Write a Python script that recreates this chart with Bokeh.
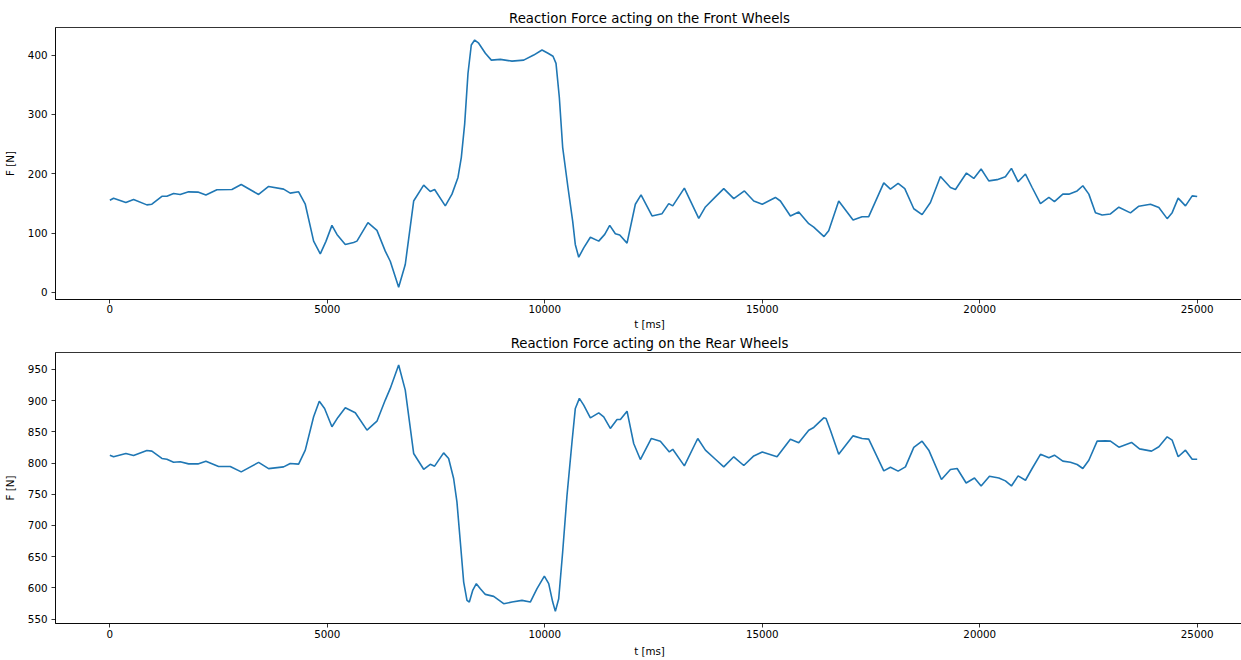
from bokeh.plotting import figure
from bokeh.layouts import column
from bokeh.models import Range1d, FixedTicker
from bokeh.embed import file_html
from bokeh.resources import INLINE

# Front wheels reaction force (t [ms], F [N])
front_t = [0, 85, 368, 545, 851, 966, 1196, 1311, 1465, 1617, 1810, 2024, 2208, 2461, 2806,
           3020, 3420, 3650, 3995, 4147, 4340, 4493, 4685, 4838, 4968, 5106, 5221, 5413, 5604,
           5681, 5934, 6141, 6332, 6447, 6640, 6792, 6985, 7215, 7367, 7467, 7712, 7866, 8004,
           8081, 8158, 8234, 8310, 8388, 8480, 8633, 8771, 8978, 9246, 9515, 9745, 9936, 10074,
           10189, 10258, 10334, 10411, 10533, 10641, 10701, 10780, 10895, 11048, 11240, 11378,
           11493, 11622, 11723, 11891,
           12082, 12213, 12466, 12696, 12850, 12942, 13209, 13540, 13693, 13923, 14115, 14345,
           14590, 14805, 15000, 15302, 15417, 15647, 15839, 16069, 16184, 16420, 16528, 16758,
           17088, 17295, 17448, 17794, 17947, 18124, 18277, 18484, 18675, 18867, 19097, 19327,
           19442, 19695, 19864, 20032, 20209, 20400, 20591, 20729, 20883, 21052, 21205, 21397,
           21590, 21718, 21911, 22049, 22240, 22371, 22509, 22661, 22815, 23006, 23199, 23466,
           23659, 23926, 24119, 24310, 24425, 24563, 24731, 24885, 25000]
front_f = [155.4, 158.8, 151.4, 156.5, 147.5, 148.6, 162, 162, 166.6, 165, 169.5, 169, 164, 172.9, 173.4,
           181.9, 165, 178.5, 174, 167.3, 169.5, 148.6, 86.4, 65, 86, 113, 97.7, 80.8, 84.2,
           86.4, 117.5, 104.5, 69.5, 52.5, 8.5, 47, 154, 180.8, 170, 173.4, 145.8, 165.6, 193.7,
           227.6, 284, 369, 417, 425.4, 420, 403, 391.5, 392.7, 389.8, 391.5, 400, 408.5, 403,
           398, 386, 329, 244.6, 176.8, 120, 80.8, 59.3, 75, 93, 86.4, 97.8,
           113, 98.8, 96.6, 83,
           148.6, 164.4, 128.8, 132.7, 149.7, 145.8, 175.7, 124.9, 144, 161, 175, 158,
           171, 154, 148.6, 160, 154, 128.8, 135.6, 115.8, 110, 94, 104, 154,
           122, 127.6, 127.6, 184.7, 174, 183.6, 175, 141, 131, 151.4, 195.4, 176.8,
           173.4, 201.2, 192, 208, 188, 190, 195, 209, 186.4, 199.5, 176.8, 149.7,
           160, 153, 165.6, 165.6, 171, 179.7, 165.6, 134.4, 130.5, 132.2, 143.6, 134,
           145.3, 148.6, 143, 124.3, 134.4, 158.8, 145.8, 162.7, 161.5]

# Rear wheels reaction force (t [ms], F [N])
rear_t = [0, 85, 368, 545, 851, 966, 1196, 1311, 1465, 1617, 1810, 2024, 2208, 2500, 2767,
          3020, 3420, 3650, 3995, 4147, 4340, 4493, 4685, 4815, 4937, 5106, 5244, 5413, 5643,
          5912, 6141, 6332, 6447, 6640, 6792, 6985, 7215, 7367, 7467, 7674, 7789, 7904, 7980,
          8058, 8135, 8211, 8265, 8342, 8426, 8518, 8633, 8825, 9055, 9246, 9476, 9667, 9821,
          9990, 10090, 10182, 10243, 10320, 10411, 10511, 10626, 10702, 10795, 10895, 11048,
          11240, 11355, 11507, 11661, 11738, 11891, 12044, 12197,
          12450, 12657, 12864, 12942, 13209, 13517, 13693, 13923, 14115, 14345, 14575, 14805,
          15000, 15340, 15647, 15839, 16069, 16184, 16414, 16467, 16567, 16758, 17088, 17295,
          17448, 17794, 17947, 18124, 18292, 18484, 18675, 18829, 19120, 19327, 19481, 19688,
          19880, 20032, 20224, 20440, 20591, 20729, 20883, 21052, 21205, 21397, 21590, 21718,
          21911, 22086, 22240, 22371, 22509, 22700, 22892, 23006, 23199, 23490, 23674, 23950,
          24119, 24310, 24425, 24563, 24731, 24885, 25000]
rear_f = [812.5, 810, 815.3, 812, 820, 819, 807.3, 806, 801.3, 802, 798.6, 798.6, 803, 794.4, 794.4,
          785.8, 801, 791, 793.8, 799.2, 798.3, 820.6, 874, 899, 887.4, 858, 873, 888.4, 880.4,
          852.7, 867, 900.8, 919.5, 957, 916.8, 815.3, 790, 798, 795, 816.3, 807.3, 775.2, 737.7,
          673.5, 609.3, 580, 577.3, 596, 606.8, 598.8, 589.6, 586.4, 574.7, 577.3, 580, 577.3, 598.8,
          619, 606.8, 577.3, 562.4, 582.7, 657.5, 748.4, 834, 887.4, 903.5, 892.7, 872.4,
          880.4, 874, 855.4, 869.8, 869.8, 883, 831.3, 805.6,
          839.3, 835, 817.8, 822, 795.4, 839.3, 820.6, 806, 793.8, 810, 796, 811.4,
          817.8, 810, 838.2, 832.3, 852.6, 857, 872.4, 871.4, 852.6, 814, 843.5, 839.3,
          838.2, 787.4, 793.3, 787, 793.8, 825, 835, 820.6, 773.6, 789.6, 791.2, 768,
          776, 763.3, 778.9, 776, 771.4, 763.3, 779.4, 772.4, 791.2, 814, 808.3, 812.5,
          803, 801.3, 797.6, 791.2, 804.5, 835, 835.5, 835, 825.4, 832.9, 822.7, 819,
          826, 842, 836.6, 810, 820.6, 806, 806]

x_ticks = [0, 5000, 10000, 15000, 20000, 25000]
front_ticks = [0, 100, 200, 300, 400]
rear_ticks = [550, 600, 650, 700, 750, 800, 850, 900, 950]

FONT = "DejaVu Sans"
LINE = "#1f77b4"


def make_fig(title, t, f, yr, yticks, frame_h, top, bottom, lab_so, axl_so):
    p = figure(width=1241, frame_width=1188, frame_height=frame_h,
               x_range=Range1d(-1250, 26065), y_range=Range1d(*yr),
               output_backend="svg", toolbar_location=None,
               min_border_left=53, min_border_right=0,
               min_border_top=top, min_border_bottom=bottom,
               title=title)
    p.title.text_font = FONT
    p.title.text_font_size = "13.3px"
    p.title.text_font_style = "normal"
    p.title.text_color = "black"
    p.title.text_line_height = 1.0
    p.title.align = "center"
    p.title.standoff = 3
    p.grid.visible = False
    p.outline_line_color = "black"
    p.outline_line_width = 0.8
    p.background_fill_color = "white"
    p.border_fill_color = "white"
    p.xaxis.ticker = FixedTicker(ticks=x_ticks)
    p.yaxis.ticker = FixedTicker(ticks=yticks)
    for ax in (p.xaxis, p.yaxis):
        ax.axis_line_color = "black"
        ax.axis_line_width = 0.8
        ax.major_tick_line_color = "black"
        ax.major_tick_line_width = 0.8
        ax.major_tick_out = 4
        ax.major_tick_in = 0
        ax.minor_tick_out = 0
        ax.minor_tick_in = 0
        ax.major_label_text_font = FONT
        ax.major_label_text_font_size = "10.3px"
        ax.major_label_text_color = "black"
        ax.major_label_text_line_height = 1.0
        ax.axis_label_text_font = FONT
        ax.axis_label_text_font_size = "10.3px"
        ax.axis_label_text_font_style = "normal"
        ax.axis_label_text_color = "black"
        ax.axis_label_text_line_height = 1.0
    p.xaxis.axis_label = "t [ms]"
    p.yaxis.axis_label = "F [N]"
    p.xaxis.major_label_standoff = lab_so
    p.xaxis.axis_label_standoff = axl_so
    p.yaxis.major_label_standoff = 4
    p.yaxis.axis_label_standoff = 9
    p.line(t, f, line_color=LINE, line_width=1.6)
    return p


p1 = make_fig("Reaction Force acting on the Front Wheels", front_t, front_f,
              (-12, 446.5), front_ticks, 272, 27, 33, 1, 2)
p2 = make_fig("Reaction Force acting on the Rear Wheels", rear_t, rear_f,
              (543, 977), rear_ticks, 271, 19, 37, 2, 4)

layout = column(p1, p2, spacing=0)
open("out.html", "w").write(file_html(layout, INLINE))
